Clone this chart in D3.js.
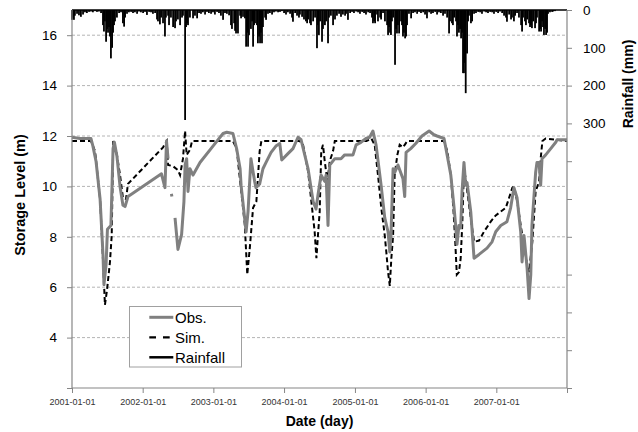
<!DOCTYPE html>
<html><head><meta charset="utf-8">
<script src="https://cdn.jsdelivr.net/npm/d3@7"></script>
<style>
body{margin:0;background:#fff;}
svg{display:block;font-family:"Liberation Sans",Arial,sans-serif;}
</style></head>
<body>
<svg id="c" width="638" height="432"></svg>
<script>
// ---- data (days counted from 2001-01-01) ----
const startDate = "2001-01-01";
const endDate = "2008-01-01";
const xTickLabels = ["2001-01-01","2002-01-01","2003-01-01","2004-01-01","2005-01-01","2006-01-01","2007-01-01"];
const levelTicks = [4,6,8,10,12,14,16];
const rainTickLabels = [0,100,200,300];

const obsDay = [0,41,98,108,124,145,160,165,176,183,201,212,219,232,248,263,274,289,299,462,480,488,496,null,
  513,516,null,
  532,547,566,578,584,592,599,609,625,661,728,780,799,831,850,868,873,899,909,924,943,950,969,986,1002,1028,1053,1073,1083,1115,1141,1167,1183,
  1219,1245,1260,1270,1286,1305,1312,1322,1331,1357,1389,1408,1451,1467,1492,1518,1537,1554,1570,1596,1615,1632,1641,1647,1658,1666,1683,1709,1718,1725,
  1749,1775,1807,1844,1869,1885,1921,1937,1956,1973,1981,1988,1998,2007,2014,2024,2033,2040,2059,2076,2102,2143,2169,2188,2214,2246,2265,2282,2298,
  2317,2324,2334,2350,2360,2369,2375,2394,2401,2412,2420,2427,2446,2472,2498,2504,2556];
const obsLevel = [11.95,11.9,11.9,11.6,11.0,9.5,7.3,6.1,6.9,8.3,8.45,11.5,11.75,11.2,10.0,9.25,9.2,9.6,9.65,10.5,9.95,11.8,11.1,null,
  9.7,9.6,null,
  8.75,7.5,8.1,9.4,10.85,11.1,9.8,10.7,10.45,10.95,11.6,12.1,12.15,12.1,11.5,10.7,10.05,8.2,9.0,11.1,10.2,9.95,10.1,10.7,10.95,11.35,11.6,11.7,11.05,11.3,11.5,11.95,11.85,
  10.7,9.4,9.1,9.65,10.45,10.2,10.45,8.45,10.85,11.1,11.1,11.25,11.25,11.65,11.75,11.9,11.95,12.2,11.65,10.05,8.75,8.2,7.4,8.05,10.7,10.55,10.85,10.3,9.6,11.35,
  11.5,11.7,12.0,12.2,12.05,12.0,11.9,11.25,10.45,9.15,8.45,7.7,8.45,8.35,9.8,10.95,10.05,10.15,9.0,7.15,7.3,7.55,7.8,8.2,8.45,8.6,9.15,9.95,9.55,
  8.2,7.0,8.05,6.75,5.55,6.5,8.45,10.55,10.95,10.95,10.05,11.1,11.25,11.5,11.75,11.85,11.85];

const simDay = [0,98,119,145,160,170,181,196,205,213,231,248,263,279,289,470,489,496,522,547,558,573,584,592,609,620,831,850,874,892,905,918,935,952,969,978,
  1176,1193,1219,1236,1253,1262,1270,1279,1287,1296,1305,1319,1331,1348,1357,1520,1546,1563,1580,1597,1615,1623,1632,1641,1649,1658,1666,1680,1692,1709,1718,1731,
  1921,1938,1956,1969,1978,1987,1998,2007,2015,2024,2033,2041,2059,2076,2102,2127,2162,2188,2214,2240,2257,2274,2282,2299,2317,2334,2351,2360,2377,2394,2412,2420,2429,2446,2556];
const simLevel = [11.8,11.8,11.4,9.5,7.1,5.3,5.9,7.0,8.05,11.8,11.3,10.45,9.55,9.5,10.1,11.55,11.8,10.85,10.8,10.65,10.45,11.1,12.2,11.25,11.45,11.8,11.8,11.5,9.8,8.5,6.5,7.55,9.15,9.4,11.4,11.8,
  11.8,11.65,10.6,9.4,8.2,7.15,8.05,9.0,11.4,11.65,11.0,10.2,11.0,11.4,11.8,11.8,11.9,11.65,10.45,9.15,8.05,7.4,6.6,6.05,7.15,8.05,10.45,11.25,11.65,11.55,11.65,11.8,
  11.8,11.4,10.45,9.15,7.95,6.5,6.6,7.15,8.45,10.7,10.3,9.8,8.75,7.8,7.85,8.2,8.6,8.85,9.0,9.15,9.55,9.95,10.0,9.4,8.45,7.65,6.9,6.6,7.8,9.8,10.2,11.1,11.8,11.9,11.8];

const rainDay = [0,5,10,15,26,36,46,57,67,77,88,98,108,119,129,139,150,160,165,170,176,181,186,191,196,201,207,212,217,222,232,243,253,263,269,274,284,294,305,315,325,336,346,356,367,377,387,398,408,418,429,439,444,454,460,470,480,485,496,501,511,522,532,537,547,558,568,573,584,589,594,599,609,625,635,646,656,666,676,687,697,707,718,728,738,749,759,769,780,790,800,811,821,826,837,842,847,857,
  868,873,883,893,899,904,909,914,924,930,935,940,945,955,960,966,971,976,981,986,997,1002,1012,1022,1033,1043,1053,1064,1074,1084,1095,1105,1115,1126,1136,1141,1152,1162,1172,1177,1188,1198,1208,1214,1219,1229,1234,1245,1255,1265,1270,1275,1281,1291,1296,1306,1312,1322,1327,1337,1348,1358,1368,1379,1389,1399,1410,1415,1425,1436,1446,1456,1467,1477,1487,1498,1508,1518,1529,1539,1549,1554,1560,1565,1575,1580,1591,1596,1606,1616,1627,1632,1637,1642,1647,1652,1658,1668,1673,1678,1683,1689,1699,1704,1709,1714,1720,1725,1730,
  1740,1751,1761,1771,1782,1792,1802,1813,1823,1833,1844,1854,1864,1875,1885,1895,1905,1916,1926,1937,1947,1952,1962,1967,1973,1983,1988,1993,1998,2004,2009,2014,2019,2024,2029,2033,2040,2045,2050,2060,2066,2076,2086,2097,2107,2117,2128,2138,2148,2159,2169,2179,2190,2200,2210,2221,2231,2241,2246,2257,2267,2272,2282,2288,2298,2308,2319,2324,2329,2339,2344,2350,2360,2365,2370,2375,2381,2391,2396,2401,2412,2417,2422,2427,2432,2437,2443,2448,2453,2458,2468,2479,2484,2494];
const rainMm = [26,20,26,15,10,14,18,12,6,8,5,4,6,3,5,4,8,40,57,30,84,50,60,45,70,128,100,60,40,30,20,8,6,35,44,20,10,6,5,8,6,10,4,6,8,5,13,5,6,10,8,25,30,38,20,35,70,20,15,40,20,45,48,30,25,40,20,15,291,45,35,40,20,22,15,22,8,10,6,12,5,8,10,6,12,5,8,15,26,8,10,14,40,50,35,55,62,62,
  15,22,18,22,97,60,97,66,50,30,97,40,35,40,88,70,88,60,88,45,20,26,10,8,12,6,4,6,5,3,8,12,6,10,20,31,8,15,20,12,18,25,30,35,25,35,40,30,20,101,40,66,30,84,50,40,30,88,20,15,40,25,15,10,18,12,15,10,26,8,5,8,4,6,10,5,8,12,6,8,20,35,30,35,12,30,20,25,8,30,40,66,45,60,66,30,20,145,50,62,40,62,30,40,70,60,75,70,40,
  10,22,8,6,10,5,8,6,12,22,6,10,8,5,12,6,8,15,10,20,62,30,35,40,20,30,70,40,60,50,75,60,167,167,140,220,115,30,15,35,30,10,8,5,6,10,4,6,8,5,6,10,5,8,4,8,15,20,31,12,25,20,30,15,8,20,40,57,20,30,40,25,35,45,40,48,30,48,35,20,57,50,57,30,45,66,50,66,60,10,6,5,4,3];

const legendLabels = ["Obs.","Sim.","Rainfall"];

// ---- chart ----
const M = {left:72, right:567, top:10, bottom:388};
const svg = d3.select("#c");
const t0 = new Date(startDate+"T00:00:00Z");
const dayToDate = d => new Date(t0.getTime() + d*864e5);

const x = d3.scaleUtc().domain([t0, new Date(endDate+"T00:00:00Z")]).range([M.left, M.right]);
const y = d3.scaleLinear().domain([2,17]).range([M.bottom, M.top]);
const yR = d3.scaleLinear().domain([0,1000]).range([M.top, M.bottom]);

// gridlines
svg.append("g").selectAll("line").data(levelTicks).join("line")
  .attr("x1",M.left).attr("x2",M.right)
  .attr("y1",d=>y(d)).attr("y2",d=>y(d))
  .attr("stroke","#b4b4b4").attr("stroke-width",1).attr("stroke-dasharray","3,2");

// rainfall bars
const rain = rainDay.map((d,i)=>({date:dayToDate(d), mm:rainMm[i]}));
svg.append("g").selectAll("rect").data(rain).join("rect")
  .attr("x",d=>x(d.date)-0.9).attr("width",1.8)
  .attr("y",yR(0)).attr("height",d=>yR(d.mm)-yR(0))
  .attr("fill","#000");

// top line
svg.append("line").attr("x1",M.left).attr("x2",M.right).attr("y1",M.top).attr("y2",M.top)
  .attr("stroke","#000").attr("stroke-width",1.5);

// lines
const obs = obsDay.map((d,i)=>({date:d===null?null:dayToDate(d), v:obsLevel[i]}));
const sim = simDay.map((d,i)=>({date:dayToDate(d), v:simLevel[i]}));
const line = d3.line().defined(d=>d.v!==null && d.date!==null).x(d=>x(d.date)).y(d=>y(d.v));

svg.append("path").datum(sim).attr("d",line).attr("fill","none")
  .attr("stroke","#000").attr("stroke-width",2).attr("stroke-dasharray","5,3");
svg.append("path").datum(obs).attr("d",line).attr("fill","none")
  .attr("stroke","#808080").attr("stroke-width",3).attr("stroke-linejoin","round");

// axes
const axisColor = "#868686";
const gL = svg.append("g").attr("transform",`translate(${M.left},0)`)
  .call(d3.axisLeft(y).tickValues([2].concat(levelTicks)).tickSize(5).tickPadding(10)
    .tickFormat(d=> d===2 ? "" : d));
const gR = svg.append("g").attr("transform",`translate(${M.right},0)`)
  .call(d3.axisRight(yR).tickValues(d3.range(0,1001,100)).tickSize(5).tickPadding(11)
    .tickFormat(d=> rainTickLabels.includes(d) ? d : ""));
const xTickDates = xTickLabels.map(s=>new Date(s+"T00:00:00Z")).concat([new Date(endDate+"T00:00:00Z")]);
const gB = svg.append("g").attr("transform",`translate(0,${M.bottom})`)
  .call(d3.axisBottom(x).tickValues(xTickDates).tickSize(5).tickPadding(6)
    .tickFormat(d=> { const s=d3.utcFormat("%Y-%m-%d")(d); return xTickLabels.includes(s)? s : ""; }));
[gL,gR,gB].forEach(g=>{
  g.select(".domain").attr("stroke",axisColor).attr("stroke-width",1.2);
  g.selectAll(".tick line").attr("stroke",axisColor);
});
gL.selectAll("text").attr("font-size",13.5).attr("fill","#000").attr("font-family","Liberation Sans, Arial, sans-serif");
gR.selectAll("text").attr("font-size",13.5).attr("fill","#000").attr("font-family","Liberation Sans, Arial, sans-serif");
gB.selectAll("text").attr("font-size",9).attr("fill","#333").attr("font-family","Liberation Sans, Arial, sans-serif");
gL.select(".domain").attr("d",`M0,${M.bottom}V${M.top}`);
gR.select(".domain").attr("d",`M0,${M.bottom}V${M.top}`);
gB.select(".domain").attr("d",`M${M.left},0H${M.right}`);

// titles
svg.append("text").attr("transform","translate(25,195) rotate(-90)").attr("text-anchor","middle")
  .attr("font-size",14.5).attr("font-weight","bold").text("Storage Level (m)");
svg.append("text").attr("transform","translate(633,84) rotate(-90)").attr("text-anchor","middle")
  .attr("font-size",14).attr("font-weight","bold").text("Rainfall (mm)");
svg.append("text").attr("x",319.5).attr("y",426).attr("text-anchor","middle")
  .attr("font-size",14).attr("font-weight","bold").text("Date (day)");

// legend
const lg = svg.append("g");
lg.append("rect").attr("x",129.5).attr("y",306.5).attr("width",112).attr("height",60.5)
  .attr("fill","#fff").attr("stroke","#a0a0a0").attr("stroke-width",1);
const rows = [317.3,337.3,357.3];
const lstyles = [
  {stroke:"#808080",w:3,dash:null},
  {stroke:"#000",w:2.2,dash:"6.7,7"},
  {stroke:"#000",w:2.5,dash:null}
];
legendLabels.forEach((lab,i)=>{
  const s = lstyles[i];
  lg.append("line").attr("x1",149.3).attr("x2",173.3).attr("y1",rows[i]).attr("y2",rows[i])
    .attr("stroke",s.stroke).attr("stroke-width",s.w).attr("stroke-dasharray",s.dash);
  lg.append("text").attr("x",175).attr("y",rows[i]+5.3).attr("font-size",15).text(lab);
});
</script>
</body></html>
